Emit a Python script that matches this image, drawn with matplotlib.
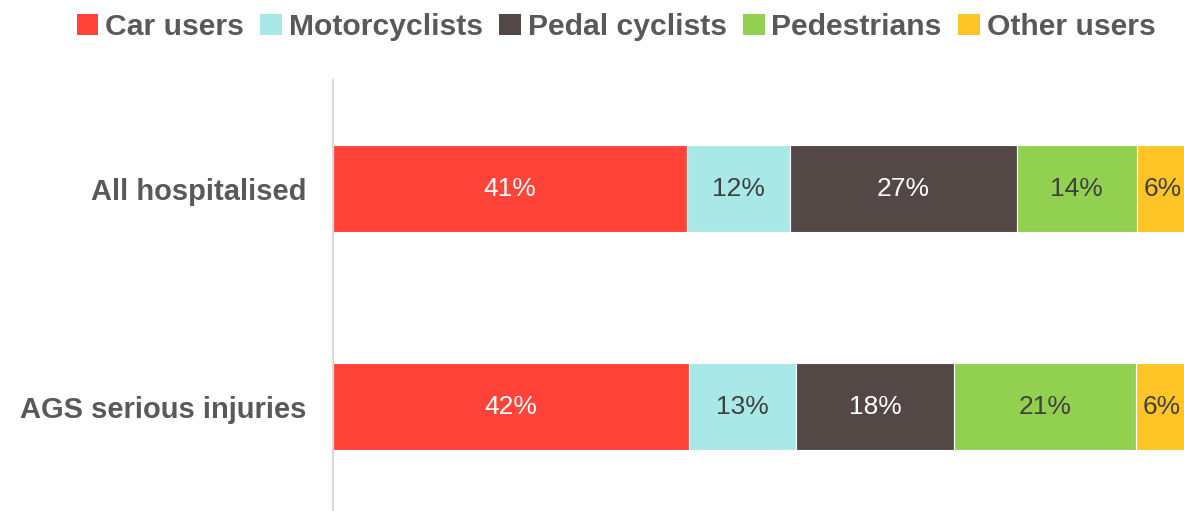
import matplotlib.pyplot as plt
from matplotlib.patches import Patch

categories = ['All hospitalised', 'AGS serious injuries']
series = ['Car users', 'Motorcyclists', 'Pedal cyclists', 'Pedestrians', 'Other users']
values = {
    'Car users': [41.4, 41.6],
    'Motorcyclists': [12.05, 12.6],
    'Pedal cyclists': [26.55, 18.4],
    'Pedestrians': [14.0, 21.3],
    'Other users': [6.0, 6.1],
}
labels = {
    'Car users': ['41%', '42%'],
    'Motorcyclists': ['12%', '13%'],
    'Pedal cyclists': ['27%', '18%'],
    'Pedestrians': ['14%', '21%'],
    'Other users': ['6%', '6%'],
}
colors = ['#FF4338', '#A8E8E6', '#534846', '#92D050', '#FFC425']
text_colors = ['white', '#404040', 'white', '#404040', '#404040']

plt.rcParams['font.family'] = ['Liberation Sans', 'DejaVu Sans']
GREY = '#595959'

fig = plt.figure(figsize=(11.84, 5.11), dpi=100)
ax = fig.add_axes([333 / 1184, 0, 855 / 1184, 431 / 511])

left = [0.0] * len(categories)
for s, c, tc in zip(series, colors, text_colors):
    vals = values[s]
    ax.barh(range(len(categories)), vals, left=left, height=0.4, color=c,
            edgecolor='white', linewidth=0.8)
    for i, v in enumerate(vals):
        ax.text(left[i] + v / 2, i, labels[s][i], ha='center', va='center',
                color=tc, fontsize=19)
    left = [l + v for l, v in zip(left, vals)]

ax.set_xlim(0, 100)
ax.set_ylim(1.48, -0.5)
ax.set_yticks(range(len(categories)))
ax.set_yticklabels(categories, fontsize=21, fontweight='bold', color=GREY)
ax.tick_params(axis='y', length=0, pad=19)
ax.set_xticks([])
for sp in ['top', 'right', 'bottom']:
    ax.spines[sp].set_visible(False)
ax.spines['left'].set_color('#D9D9D9')
ax.spines['left'].set_linewidth(1.5)

handles = [Patch(facecolor=c, label=s) for s, c in zip(series, colors)]
leg = fig.legend(handles=handles, loc='center', bbox_to_anchor=(616 / 1184, 1 - 27 / 511),
                 ncol=5, frameon=False, handlelength=0.72, handleheight=0.72,
                 handletextpad=0.22, columnspacing=0.55,
                 prop={'size': 21.7, 'weight': 'bold'})
for t in leg.get_texts():
    t.set_color(GREY)

fig.savefig('out.png', dpi=100)
